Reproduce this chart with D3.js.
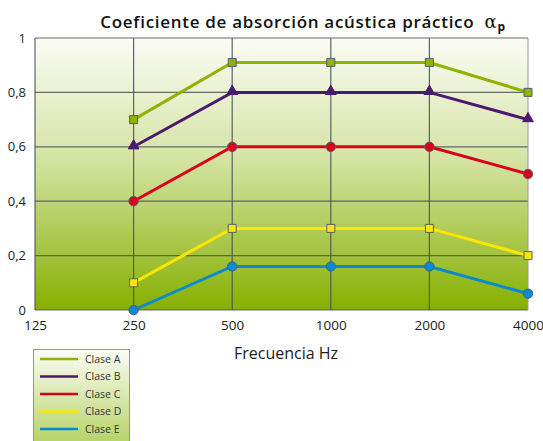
<!DOCTYPE html>
<html><head><meta charset="utf-8">
<script src="https://cdn.jsdelivr.net/npm/d3@7"></script>
<style>body{margin:0;background:#fff}svg{display:block}</style>
</head><body>
<script>
const freqs = [125, 250, 500, 1000, 2000, 4000];
const dataFreqs = [250, 500, 1000, 2000, 4000];
const yTicks = [0, 0.2, 0.4, 0.6, 0.8, 1];
const yTickLabels = ["0", "0,2", "0,4", "0,6", "0,8", "1"];
const claseA = [0.70, 0.91, 0.91, 0.91, 0.80];
const claseB = [0.60, 0.80, 0.80, 0.80, 0.70];
const claseC = [0.40, 0.60, 0.60, 0.60, 0.50];
const claseD = [0.10, 0.30, 0.30, 0.30, 0.20];
const claseE = [0.00, 0.16, 0.16, 0.16, 0.06];
const seriesNames = ["Clase A", "Clase B", "Clase C", "Clase D", "Clase E"];
const seriesColors = ["#8cb400", "#4b1a6e", "#d9001b", "#ffe600", "#0a8ad0"];
const seriesMarkers = ["square", "triangle", "circle", "square", "circle"];
const seriesValues = [claseA, claseB, claseC, claseD, claseE];

const W = 543, H = 441;
const m = {l: 35, r: 15, t: 38, b: 131};
const svg = d3.select("body").append("svg").attr("width", W).attr("height", H);
const defs = svg.append("defs");
const g1 = defs.append("linearGradient").attr("id","bg").attr("x1",0).attr("y1",0).attr("x2",0).attr("y2",1);
g1.append("stop").attr("offset","0%").attr("stop-color","#fbfcf5");
g1.append("stop").attr("offset","45%").attr("stop-color","#d4e3a2");
g1.append("stop").attr("offset","100%").attr("stop-color","#86b000");
const g2 = defs.append("linearGradient").attr("id","lg").attr("x1",0).attr("y1",0).attr("x2",0).attr("y2",1);
g2.append("stop").attr("offset","0%").attr("stop-color","#fbfcf5");
g2.append("stop").attr("offset","100%").attr("stop-color","#b7d36a");

const x = d3.scaleLog().base(2).domain([125, 4000]).range([m.l, W - m.r]);
const y = d3.scaleLinear().domain([0, 1]).range([H - m.b, m.t]);

svg.append("rect").attr("x", x(125)).attr("y", y(1)).attr("width", x(4000)-x(125)).attr("height", y(0)-y(1)).attr("fill","url(#bg)");

// grid
svg.append("g").selectAll("line").data(yTicks).join("line")
  .attr("x1", x(125)).attr("x2", x(4000)).attr("y1", d=>y(d)).attr("y2", d=>y(d))
  .attr("stroke","#4a5560").attr("stroke-width",1.2).attr("opacity",0.85);
svg.append("g").selectAll("line").data(freqs).join("line")
  .attr("x1", d=>x(d)).attr("x2", d=>x(d)).attr("y1", y(1)).attr("y2", y(0))
  .attr("stroke", (d,i)=> i===freqs.length-1 ? "#9aa0a6" : "#4a5560").attr("stroke-width",1.2).attr("opacity",0.9);

// axes labels
const yAx = d3.axisLeft(y).tickValues(yTicks).tickFormat((d,i)=>yTickLabels[i]).tickSize(0).tickPadding(9);
svg.append("g").attr("transform",`translate(${x(125)},0)`).call(yAx)
  .call(s=>s.select(".domain").remove())
  .selectAll("text").attr("font-family","Open Sans, sans-serif").attr("font-size",13).attr("fill","#222");
const xAx = d3.axisBottom(x).tickValues(freqs).tickFormat(d3.format("d")).tickSize(0).tickPadding(10);
svg.append("g").attr("transform",`translate(0,${y(0)})`).call(xAx)
  .call(s=>s.select(".domain").remove())
  .selectAll("text").attr("font-family","Open Sans, sans-serif").attr("font-size",13.5).attr("fill","#222");

svg.append("text").attr("x", 286).attr("y", 359).attr("text-anchor","middle")
  .attr("font-family","Open Sans, sans-serif").attr("font-size",16).attr("fill","#222").text("Frecuencia Hz");

// title
const t = svg.append("text").attr("x", 303).attr("y", 28).attr("text-anchor","middle")
  .attr("xml:space","preserve").style("white-space","pre")
  .attr("font-family","Open Sans, sans-serif").attr("font-size",17).attr("font-weight",600)
  .attr("letter-spacing",0.7).attr("fill","#111");
t.append("tspan").text("Coeficiente de absorción acústica práctico  ");
t.append("tspan").attr("font-family","DejaVu Serif, serif").attr("font-weight","normal").attr("font-size",18).text("α");
t.append("tspan").attr("font-size",12).attr("font-weight","bold").attr("dy",3).text("p");

// series
const line = d3.line().x((d,i)=>x(dataFreqs[i])).y(d=>y(d));
const sym = {square: d3.symbolSquare, triangle: d3.symbolTriangle, circle: d3.symbolCircle};
seriesValues.forEach((vals, k) => {
  svg.append("path").datum(vals).attr("d", line).attr("fill","none")
    .attr("stroke", seriesColors[k]).attr("stroke-width",3);
});
seriesValues.forEach((vals, k) => {
  const mk = seriesMarkers[k];
  svg.append("g").selectAll("path").data(vals).join("path")
    .attr("transform",(d,i)=>`translate(${x(dataFreqs[i])},${y(d) + (mk==="triangle"?-1:0)})`)
    .attr("d", d3.symbol().type(sym[mk]).size(mk==="square"?64:mk==="triangle"?50:70))
    .attr("fill", seriesColors[k])
    .attr("stroke", mk==="triangle" ? seriesColors[k] : "#556070").attr("stroke-width",1);
});

// legend
const lg = svg.append("g").attr("transform","translate(33,349)");
lg.append("rect").attr("x",0.5).attr("y",0.5).attr("width",96).attr("height",92).attr("fill","url(#lg)").attr("stroke","#8cb400").attr("stroke-width",1);
seriesNames.forEach((n,k)=>{
  const yy = 10 + k*17.5;
  lg.append("line").attr("x1",7).attr("x2",45).attr("y1",yy).attr("y2",yy).attr("stroke",seriesColors[k]).attr("stroke-width",2.5);
  lg.append("text").attr("x",52).attr("y",yy+3.5).attr("font-family","Open Sans, sans-serif").attr("font-size",10.5).attr("fill","#333").text(n);
});
</script>
</body></html>
